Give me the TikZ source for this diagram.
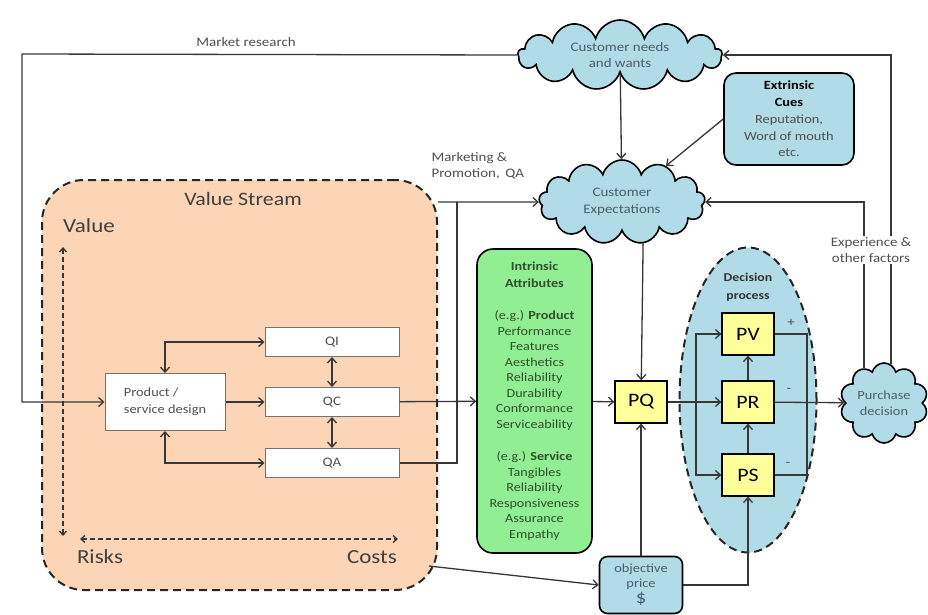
\documentclass[tikz,border=0pt]{standalone}
\usepackage{fontspec}
\setmainfont{Carlito}[FakeStretch=1.15]
\usetikzlibrary{arrows.meta,positioning,shapes.symbols,shapes.geometric}
\definecolor{streamcol}{RGB}{251,213,181}
\definecolor{skycol}{RGB}{178,219,232}
\definecolor{attrcol}{RGB}{146,238,146}
\definecolor{perccol}{RGB}{255,255,153}
\definecolor{linecol}{RGB}{55,55,55}
\definecolor{txtcol}{RGB}{80,80,80}
\definecolor{cloudtxt}{RGB}{75,95,105}
\definecolor{attrtxt}{RGB}{45,80,45}
\tikzset{
  arrow/.style={-{Straight Barb[length=5pt,width=9pt]},line width=1.3pt,draw=linecol},
  biarrow/.style={{Straight Barb[length=5pt,width=9pt]}-{Straight Barb[length=5pt,width=9pt]},
    line width=1.3pt,draw=linecol},
  link/.style={line width=1.3pt,draw=linecol},
  dasharrow/.style={{Straight Barb[length=4pt,width=7pt]}-{Straight Barb[length=4pt,width=7pt]},
    line width=1.3pt,dash pattern=on 5pt off 3pt,draw=linecol},
  stream/.style={draw=black!85,fill=streamcol,line width=2pt,dash pattern=on 8pt off 5pt,
    rounded corners=42pt,minimum width=395pt,minimum height=410pt},
  qbox/.style={draw=black!55,fill=white,line width=1pt,minimum width=134pt,minimum height=29pt,
    inner sep=0pt,font=\fontsize{13}{15}\selectfont,text=txtcol},
  pbox/.style={draw=black,fill=perccol,line width=1.3pt,minimum width=52pt,minimum height=42pt,
    inner sep=0pt,font=\fontsize{19}{21}\selectfont},
  mood/.style={cloud,cloud puffs=13,cloud ignores aspect,draw=black,line width=1.6pt,fill=skycol,
    inner sep=0pt,align=center,text=cloudtxt,font=\fontsize{13}{16.5}\selectfont},
  infobox/.style={draw=black,fill=skycol,line width=1.6pt,align=center,inner sep=0pt},
  decision/.style={ellipse,draw=black!85,fill=skycol,line width=2pt,dash pattern=on 8pt off 5pt,
    minimum width=137pt,minimum height=305pt},
  lbl/.style={text=txtcol,align=center,font=\fontsize{13}{16}\selectfont},
  biglbl/.style={text=black!75,font=\fontsize{19}{21}\selectfont}
}
\begin{document}
\begin{tikzpicture}[x=1pt,y=-1pt]
  \useasboundingbox[fill=white] (0,0) rectangle (928,614);
  % value stream
  \node[stream] (vs) at (239.5,385) {};
  \node[biglbl] (vstitle) at (243,199) {Value Stream};
  \node[biglbl,font=\fontsize{20}{22}\selectfont] (valuelbl) at (89,226) {Value};
  \node[biglbl,font=\fontsize{20}{22}\selectfont] (risklbl) at (100,557) {Risks};
  \node[biglbl,font=\fontsize{20}{22}\selectfont] (costlbl) at (372,557) {Costs};
  \coordinate (vtop) at (63,247);
  \coordinate (vbot) at (63,536);
  \coordinate (cleft) at (80,539);
  \coordinate (cright) at (398,539);
  \draw[dasharrow] (vtop) -- (vbot);
  \draw[dasharrow] (cleft) -- (cright);
  \node[qbox,align=left,minimum width=120pt,minimum height=57pt,font=\fontsize{12.5}{17}\selectfont]
    (psd) at (165,402) {Product /\\service design};
  \node[qbox] (qi) at (332,342) {QI};
  \node[qbox] (qc) at (332,402) {QC};
  \node[qbox] (qa) at (332,463) {QA};
  % customer side
  \node[mood,minimum width=204pt,minimum height=70pt] (cn) at (620,55) {Customer needs\\and wants};
  \node[mood,minimum width=166pt,minimum height=84pt] (ce) at (622,202) {Customer\\Expectations};
  \node[infobox,rounded corners=12pt,minimum width=130pt,minimum height=92pt,
    text=txtcol,font=\fontsize{12.5}{16.7}\selectfont] (ec) at (789,119)
    {\textcolor{black}{\textbf{Extrinsic}}\\\textcolor{black}{\textbf{Cues}}\\Reputation,\\Word of mouth\\etc.};
  \node[draw=black,fill=attrcol,line width=1.6pt,rounded corners=16pt,minimum width=115pt,
    minimum height=304pt,align=center,inner sep=0pt,text=attrtxt,font=\fontsize{12.3}{15.5}\selectfont]
    (ia) at (534.5,401)
    {\textbf{Intrinsic}\\[1pt]\textbf{Attributes}\\[17pt]
     (e.g.) \textbf{Product}\\Performance\\Features\\Aesthetics\\Reliability\\Durability\\
     Conformance\\Serviceability\\[17pt]
     (e.g.) \textbf{Service}\\Tangibles\\Reliability\\Responsiveness\\Assurance\\Empathy};
  \node[pbox] (pq) at (641,402) {PQ};
  \node[infobox,rounded corners=8pt,minimum width=83pt,minimum height=57pt,text=cloudtxt,
    font=\fontsize{12.5}{15}\selectfont] (op) at (641,585)
    {objective\\price\\[1pt]{\fontsize{18}{18}\selectfont\$}};
  % decision process
  \node[decision] (dp) at (748,400) {};
  \node[font=\bfseries\fontsize{12}{17.5}\selectfont,align=center,text=black!80] (dptitle) at (748,287)
    {Decision\\process};
  \node[pbox] (pv) at (748,334) {PV};
  \node[pbox] (pr) at (748,402) {PR};
  \node[pbox] (ps) at (748,475) {PS};
  \node[mood,cloud puffs=10,minimum width=88pt,minimum height=80pt,font=\fontsize{12.5}{16}\selectfont]
    (pd) at (884,403) {Purchase\\decision};
  % connectors
  \coordinate (mrc) at (22,54);
  \coordinate (mk) at (457,202);
  \coordinate (vsout) at (429,566);
  \coordinate (br) at (696,402);
  \coordinate (mg) at (807,402);
  \draw[arrow] (cn.west) -- (mrc) |- (psd);
  \draw[arrow] (psd) -- (qc);
  \draw[biarrow] (psd) |- (qi);
  \draw[biarrow] (psd) |- (qa);
  \draw[biarrow] (qi) -- (qc);
  \draw[biarrow] (qc) -- (qa);
  \draw[arrow] (qc) -- (ia);
  \draw[arrow] (ia) -- (pq);
  \draw[arrow] (vs.east |- mk) -- (ce.west);
  \draw[link] (qa) -| (mk);
  \draw[arrow] (cn) -- (ce);
  \draw[arrow] (ec.west) -- (ce);
  \draw[arrow] (ce.-63) -- (pq);
  \draw[arrow] (op) -- (pq);
  \draw[arrow] (vsout) -- (op.west);
  \draw[arrow] (op) -| (ps);
  \draw[arrow] (pq) -- (pr);
  \draw[arrow] (br) |- (pv);
  \draw[arrow] (br) |- (ps);
  \draw[arrow] (ps) -- (pr);
  \draw[arrow] (pr) -- (pv);
  \draw[link] (pv) -| (mg);
  \draw[link] (ps) -| (mg);
  \draw[arrow] (pr) -- (pd);
  \draw[arrow] (pd.80) |- (cn.east);
  \draw[arrow] (pd.120) |- (ce.east);
  % labels on the lines
  \node[lbl] (mrlbl) at (246,42) {Market research};
  \node[lbl,align=left,anchor=west] (mklbl) at (428,166) {Marketing \&\\Promotion,\, QA};
  \node[lbl,fill=white,inner sep=1pt] (exlbl) at (871,250) {Experience \&\\other factors};
  \node[lbl,text=black!70] (plus) at (791,323) {+};
  \node[lbl,text=black!70] (minus1) at (789,390) {-};
  \node[lbl,text=black!70] (minus2) at (788,464) {-};
\end{tikzpicture}
\end{document}
